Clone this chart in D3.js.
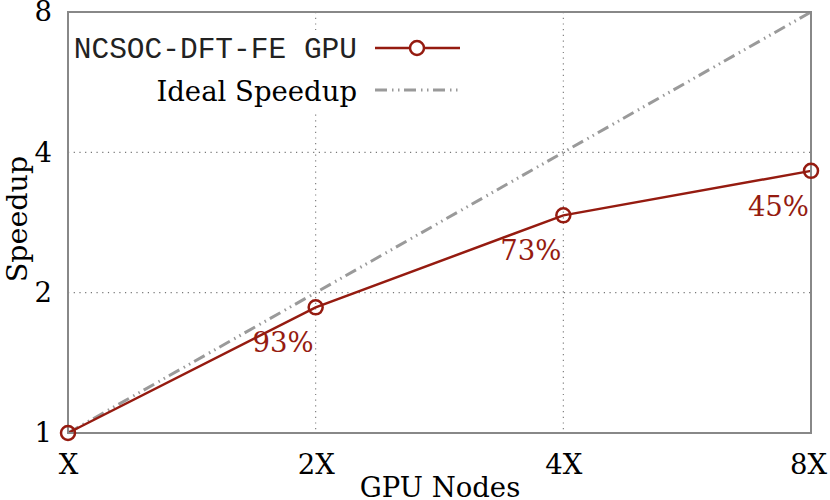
<!DOCTYPE html>
<html><head><meta charset="utf-8">
<script src="https://cdn.jsdelivr.net/npm/d3@7"></script>
<style>body{margin:0;background:#fff}</style>
</head><body>
<svg id="c" width="830" height="500"></svg>
<script>
const categories = ["X", "2X", "4X", "8X"];
const nodes = [1, 2, 4, 8];
const measured = [1, 1.86, 2.93, 3.65];
const ideal = [1, 2, 4, 8];
const efficiency = ["", "93%", "73%", "45%"];
const yTicks = [1, 2, 4, 8];

const red = "#951b10";
const serif = "DejaVu Serif";
const fs = 27.5;
const idealDash = "12,5,1.5,4.5,1.5,4.5";
const svg = d3.select("#c");
const m = {l: 68, r: 811, t: 12, b: 433};
const x = d3.scaleLog().base(2).domain([1, 8]).range([m.l, m.r]);
const y = d3.scaleLog().base(2).domain([1, 8]).range([m.b, m.t]);

// grid
const g = svg.append("g");
g.selectAll("line.gx").data(nodes.slice(1, -1)).enter().append("line")
  .attr("x1", d => x(d)).attr("x2", d => x(d)).attr("y1", m.t).attr("y2", m.b)
  .attr("stroke", "#777").attr("stroke-width", 1.1).attr("stroke-dasharray", "1.2,4.5");
g.selectAll("line.gy").data(yTicks.slice(1, -1)).enter().append("line")
  .attr("y1", d => y(d)).attr("y2", d => y(d)).attr("x1", m.l).attr("x2", m.r)
  .attr("stroke", "#777").attr("stroke-width", 1.1).attr("stroke-dasharray", "1.2,4.5");

// axes labels
const xAxis = d3.axisBottom(x).tickValues(nodes).tickFormat((d, i) => categories[i]).tickSize(0).tickPadding(21);
const ax = svg.append("g").attr("transform", `translate(0,${m.b})`).call(xAxis);
ax.select(".domain").remove();
ax.selectAll("text").attr("font-family", serif).attr("font-size", fs).attr("fill", "#000")
  .attr("dx", (d, i) => i === nodes.length - 1 ? -3 : 0);
const yAxis = d3.axisLeft(y).tickValues(yTicks).tickFormat(d3.format("d")).tickSize(0).tickPadding(16);
const ay = svg.append("g").attr("transform", `translate(${m.l},0)`).call(yAxis);
ay.select(".domain").remove();
ay.selectAll("text").attr("font-family", serif).attr("font-size", fs).attr("fill", "#000");

// titles
svg.append("text").attr("x", 440).attr("y", 497).attr("text-anchor", "middle")
  .attr("font-family", serif).attr("font-size", fs).text("GPU Nodes");
svg.append("text").attr("transform", `translate(27,219) rotate(-90)`).attr("text-anchor", "middle")
  .attr("font-family", serif).attr("font-size", fs + 1).text("Speedup");

// ideal line
const line = d3.line().x((d, i) => x(nodes[i])).y(d => y(d));
svg.append("path").datum(ideal).attr("d", line).attr("fill", "none")
  .attr("stroke", "#9a9a9a").attr("stroke-width", 3).attr("stroke-dasharray", idealDash);

// measured
svg.append("path").datum(measured).attr("d", line).attr("fill", "none")
  .attr("stroke", red).attr("stroke-width", 2.5);

// frame
svg.append("rect").attr("x", m.l).attr("y", m.t).attr("width", m.r - m.l).attr("height", m.b - m.t)
  .attr("fill", "none").attr("stroke", "#888").attr("stroke-width", 2);

svg.selectAll("circle.pt").data(measured).enter().append("circle")
  .attr("cx", (d, i) => x(nodes[i])).attr("cy", d => y(d)).attr("r", 7)
  .attr("fill", "none").attr("stroke", red).attr("stroke-width", 2.5);

// labels
const labData = measured.map((v, i) => ({n: nodes[i], v, t: efficiency[i]})).filter(d => d.t);
svg.selectAll("text.eff").data(labData).enter().append("text")
  .attr("x", d => x(d.n) - 2).attr("y", d => y(d.v) + 45)
  .attr("text-anchor", "end").attr("font-family", serif).attr("font-size", fs).attr("fill", red)
  .text(d => d.t);

// legend
const lg = svg.append("g");
lg.append("rect").attr("x", 70).attr("y", 30).attr("width", 398).attr("height", 80).attr("fill", "#fff");
lg.append("text").attr("x", 357).attr("y", 58).attr("text-anchor", "end")
  .attr("font-family", "Liberation Mono").attr("font-size", 29.5).attr("fill", "#222").text("NCSOC-DFT-FE GPU");
lg.append("line").attr("x1", 375).attr("x2", 460).attr("y1", 48).attr("y2", 48).attr("stroke", red).attr("stroke-width", 2.5);
lg.append("circle").attr("cx", 417).attr("cy", 48).attr("r", 7).attr("fill", "#fff").attr("stroke", red).attr("stroke-width", 2.5);
lg.append("text").attr("x", 357).attr("y", 101).attr("text-anchor", "end")
  .attr("font-family", serif).attr("font-size", fs).text("Ideal Speedup");
lg.append("line").attr("x1", 375).attr("x2", 460).attr("y1", 90).attr("y2", 90).attr("stroke", "#9a9a9a").attr("stroke-width", 3).attr("stroke-dasharray", idealDash);
</script>
</body></html>
